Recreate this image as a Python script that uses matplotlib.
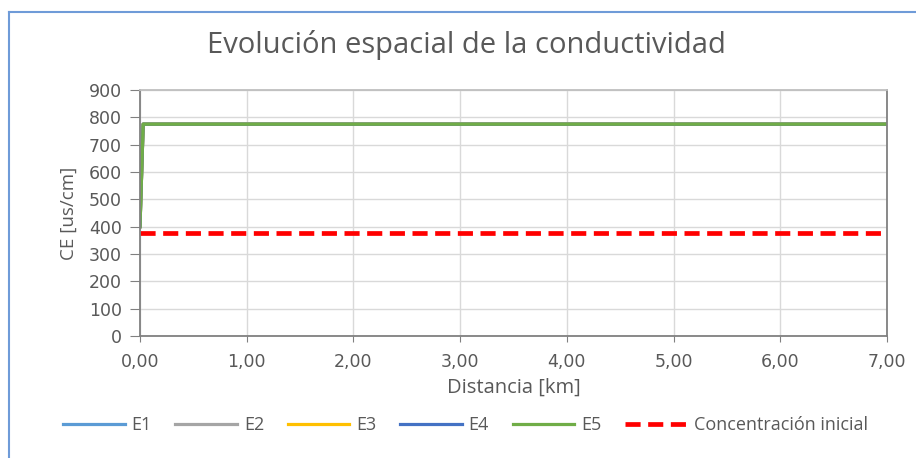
import matplotlib.pyplot as plt
from matplotlib.lines import Line2D
from matplotlib.ticker import FuncFormatter

plt.rcParams['font.family'] = ['Open Sans', 'DejaVu Sans']

# datos
distancia = [0.0, 0.03, 0.5, 1.0, 2.0, 3.0, 4.0, 5.0, 6.0, 7.0]
e1 = [400, 775, 775, 775, 775, 775, 775, 775, 775, 775]
e2 = [400, 775, 775, 775, 775, 775, 775, 775, 775, 775]
e3 = [400, 775, 775, 775, 775, 775, 775, 775, 775, 775]
e4 = [400, 775, 775, 775, 775, 775, 775, 775, 775, 775]
e5 = [400, 775, 775, 775, 775, 775, 775, 775, 775, 775]
dist_ini = [0.0, 7.0]
conc_inicial = [375, 375]

series = [('E1', e1, '#5b9bd5'), ('E2', e2, '#a5a5a5'), ('E3', e3, '#ffc000'),
          ('E4', e4, '#4472c4'), ('E5', e5, '#70ad47')]

txt = '#595959'
fig = plt.figure(figsize=(9.16, 4.58), dpi=100)
ax = fig.add_axes([0.1528, 0.2664, 0.8155, 0.5371])

for nombre, vals, col in series:
    ax.plot(distancia, vals, color=col, lw=2.3, label=nombre)
ax.plot(dist_ini, conc_inicial, color='#ff0000', lw=3.4, ls=(0, (3.2, 1.6)),
        label='Concentración inicial')

ax.set_xlim(0, 7)
ax.set_ylim(0, 900)
ax.set_xticks(range(0, 8))
ax.set_yticks(range(0, 901, 100))
ax.xaxis.set_major_formatter(FuncFormatter(lambda v, p: f'{v:.2f}'.replace('.', ',')))
ax.grid(True, color='#d9d9d9', lw=1)
ax.set_axisbelow(True)
for s in ax.spines.values():
    s.set_color('#808080')
    s.set_linewidth(1.3)
ax.spines['top'].set_color('#bfbfbf')
ax.tick_params(axis='both', colors='#808080', labelcolor=txt, labelsize=12.5,
               direction='out', labelfontfamily='DejaVu Sans')
ax.tick_params(axis='x', length=4, pad=8)
ax.tick_params(axis='y', length=7, pad=6)
ax.set_xlabel('Distancia [km]', color=txt, fontsize=14.5, labelpad=5)
ax.set_ylabel('CE [us/cm]', color=txt, fontsize=13.5, labelpad=8)

fig.text(0.509, 0.902, 'Evolución espacial de la conductividad', ha='center',
         va='center', fontsize=21, color=txt)

ax.legend(loc='center', bbox_to_anchor=(0.508, 0.072), bbox_transform=fig.transFigure,
          ncol=6, frameon=False, fontsize=13, labelcolor=txt, handlelength=3.4,
          columnspacing=1.3, handletextpad=0.4, borderaxespad=0, borderpad=0)

# marco exterior
fig.add_artist(Line2D([9 / 916, 9 / 916], [0, 1 - 12 / 458], color='#6f9bd8', lw=1.5))
fig.add_artist(Line2D([9 / 916, 1], [1 - 12 / 458, 1 - 12 / 458], color='#6f9bd8', lw=1.5))

fig.savefig('out.png', dpi=100)
